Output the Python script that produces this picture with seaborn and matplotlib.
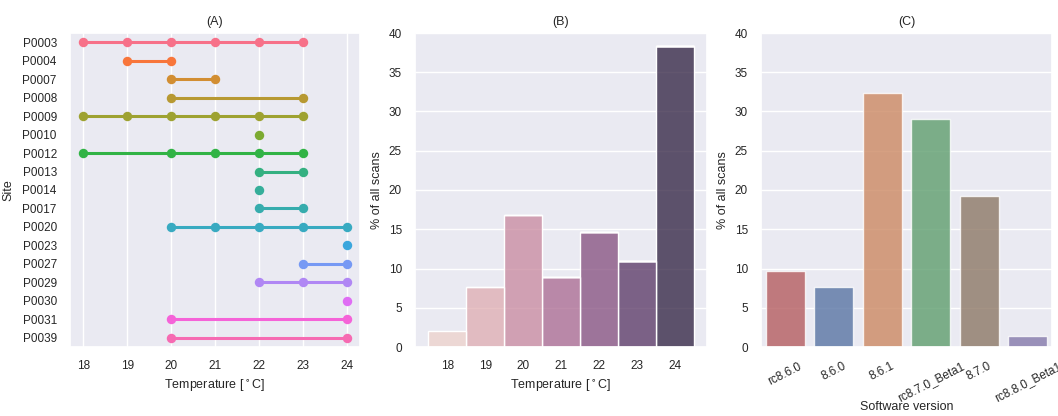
import seaborn as sns
import matplotlib.pyplot as plt
import pandas as pd

# (A) temperatures recorded per site
sites = ["P0003", "P0004", "P0007", "P0008", "P0009", "P0010", "P0012", "P0013", "P0014",
         "P0017", "P0020", "P0023", "P0027", "P0029", "P0030", "P0031", "P0039"]
site_temps = [
    [18, 19, 20, 21, 22, 23],
    [19, 20],
    [20, 21],
    [20, 23],
    [18, 19, 20, 21, 22, 23],
    [22],
    [18, 20, 21, 22, 23],
    [22, 23],
    [22],
    [22, 23],
    [20, 21, 22, 23, 24],
    [24],
    [23, 24],
    [22, 23, 24],
    [24],
    [20, 24],
    [20, 24],
]

# (B) share of scans per temperature
temps = [18, 19, 20, 21, 22, 23, 24]
temp_pct = [2.0, 7.7, 16.8, 8.9, 14.7, 11.0, 38.4]

# (C) share of scans per software version
versions = ["rc8.6.0", "8.6.0", "8.6.1", "rc8.7.0_Beta1", "8.7.0", "rc8.8.0_Beta1"]
version_pct = [9.7, 7.7, 32.3, 29.0, 19.2, 1.4]

sns.set_theme(style="darkgrid")
plt.rcParams['font.family'] = ['Liberation Sans', 'DejaVu Sans']

fig = plt.figure(figsize=(10.58, 4.16), dpi=100)
bottom, height = 1 - 347 / 416, 314 / 416
ax_a = fig.add_axes([70 / 1058, bottom, 290 / 1058, height])
ax_b = fig.add_axes([415 / 1058, bottom, 292 / 1058, height])
ax_c = fig.add_axes([761 / 1058, bottom, 291 / 1058, height])

tick_fs = 8.5
lab_fs = 9

# --- (A) ---
rows = []
for i, (s, ts) in enumerate(zip(sites, site_temps)):
    for t in ts:
        rows.append({"site": s, "row": i, "temp": t})
df_a = pd.DataFrame(rows)

sns.lineplot(data=df_a, x="temp", y="row", hue="site", hue_order=sites,
             palette=sns.husl_palette(len(sites)), estimator=None,
             marker="o", markersize=6.8, markeredgewidth=0, linewidth=2.2,
             legend=False, ax=ax_a)
ax_a.set_yticks(range(len(sites)))
ax_a.set_yticklabels(sites)
ax_a.set_ylim(len(sites) - 0.5, -0.5)
ax_a.set_xticks(temps)
ax_a.set_xlim(17.7, 24.3)
ax_a.yaxis.grid(False)
ax_a.set_xlabel("Temperature [$^\\circ$C]", fontsize=lab_fs)
ax_a.set_ylabel("Site", fontsize=lab_fs, labelpad=6)
ax_a.set_title("(A)", fontsize=lab_fs)

# --- (B) ---
sns.histplot(x=temps, weights=temp_pct, hue=temps, discrete=True, multiple="stack",
             legend=False, ax=ax_b)
ax_b.set_xticks(temps)
ax_b.set_ylim(0, 40)
ax_b.set_yticks(range(0, 41, 5))
ax_b.xaxis.grid(False)
ax_b.set_xlabel("Temperature [$^\\circ$C]", fontsize=lab_fs)
ax_b.set_ylabel("% of all scans", fontsize=lab_fs)
ax_b.set_title("(B)", fontsize=lab_fs)

# --- (C) ---
deep = sns.color_palette("deep")
version_colors = dict(zip(versions, [deep[3], deep[0], deep[1], deep[2], deep[5], deep[4]]))
sns.barplot(x=versions, y=version_pct, hue=versions, palette=version_colors,
            alpha=0.8, legend=False, ax=ax_c)
ax_c.set_ylim(0, 40)
ax_c.set_yticks(range(0, 41, 5))
ax_c.tick_params(axis="x", rotation=27)
ax_c.set_xlabel("Software version", fontsize=lab_fs, labelpad=-2)
ax_c.set_ylabel("% of all scans", fontsize=lab_fs)
ax_c.set_title("(C)", fontsize=lab_fs)

for ax in (ax_a, ax_b, ax_c):
    ax.tick_params(labelsize=tick_fs)

fig.savefig("out.png", dpi=100)
